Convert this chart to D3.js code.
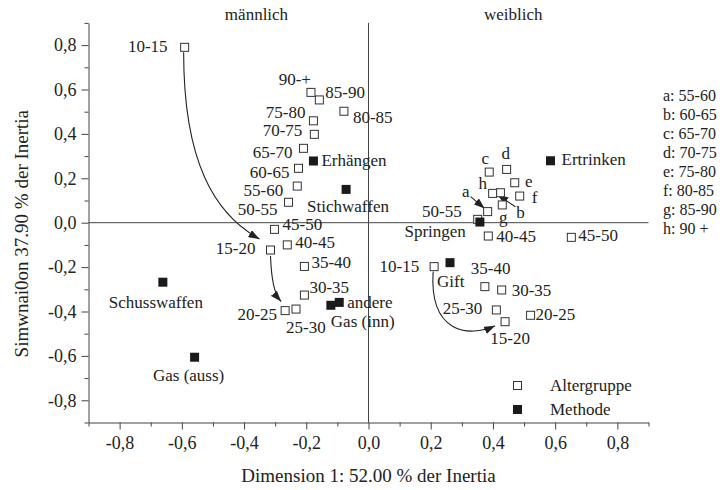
<!DOCTYPE html>
<html>
<head>
<meta charset="utf-8">
<script src="https://cdn.jsdelivr.net/npm/d3@7"></script>
<style>
  html, body { margin: 0; padding: 0; background: #fff; }
  svg { display: block; }
  text { font-family: "Liberation Serif", "Times New Roman", serif; fill: #222; }
</style>
</head>
<body>
<svg id="chart" width="724" height="490"></svg>
<script>
// ---------------- DATA ----------------
const ageGroups = ["10-15","15-20","20-25","25-30","30-35","35-40","40-45","45-50","50-55",
                   "55-60","60-65","65-70","70-75","75-80","80-85","85-90","90-+"];
const maleX   = [-0.591,-0.315,-0.268,-0.233,-0.206,-0.206,-0.261,-0.302,-0.257,
                 -0.229,-0.225,-0.209,-0.174,-0.177,-0.079,-0.158,-0.185];
const maleY   = [ 0.790,-0.123,-0.396,-0.389,-0.326,-0.197,-0.100,-0.030, 0.092,
                  0.165, 0.245, 0.335, 0.398, 0.459, 0.502, 0.553, 0.587];
const femaleX = [ 0.211, 0.439, 0.521, 0.411, 0.428, 0.374, 0.385, 0.652, 0.351,
                  0.383, 0.424, 0.388, 0.444, 0.470, 0.486, 0.430, 0.399];
const femaleY = [-0.198,-0.446,-0.417,-0.393,-0.303,-0.288,-0.060,-0.066, 0.015,
                  0.050, 0.135, 0.228, 0.240, 0.180, 0.120, 0.080, 0.132];
// female older groups are shown with letter codes
const femaleCodes = ["","","","","","","","","","a","b","c","d","e","f","g","h"];
const codeKey = ["a: 55-60","b: 60-65","c: 65-70","d: 70-75","e: 75-80","f: 80-85","g: 85-90","h: 90 +"];

const methods = ["Erhängen","Stichwaffen","andere","Gas (inn)","Schusswaffen","Gas (auss)","Ertrinken","Springen","Gift"];
const methodX = [-0.177,-0.072,-0.094,-0.121,-0.661,-0.559, 0.585, 0.358, 0.262];
const methodY = [ 0.278, 0.150,-0.359,-0.372,-0.268,-0.606, 0.279, 0.003,-0.180];

const xTicks = [-0.8,-0.6,-0.4,-0.2,0,0.2,0.4,0.6,0.8];
const yTicks = [-0.8,-0.6,-0.4,-0.2,0,0.2,0.4,0.6,0.8];
const minorTicks = [-0.9,-0.7,-0.5,-0.3,-0.1,0.1,0.3,0.5,0.7,0.9];
const sideHeaders = ["männlich","weiblich"];
const xTitle = "Dimension 1: 52.00 % der Inertia";
const yTitle = "Simwnai0on 37.90 % der Inertia";
const legendItems = ["Altergruppe","Methode"];

// ---------------- LAYOUT (label offsets in px) ----------------
const labelOffsets = {
  "m:10-15":[-17,5,"end"], "m:90-+":[0,-7,"end"], "m:85-90":[6,-2,"start"], "m:80-85":[9,12,"start"],
  "m:75-80":[-8,-3,"end"], "m:70-75":[-12,2,"end"], "m:65-70":[-11,10,"end"], "m:60-65":[-9,10,"end"],
  "m:55-60":[-14,10,"end"], "m:50-55":[-11,13,"end"], "m:45-50":[8,1,"start"], "m:40-45":[8,3,"start"],
  "m:15-20":[-15,4,"end"], "m:35-40":[7,2,"start"], "m:30-35":[5,-2,"start"], "m:20-25":[-8,9,"end"],
  "m:25-30":[-10,24,"start"],
  "f:10-15":[-15,5,"end"], "f:15-20":[5,22,"middle"], "f:20-25":[5,5,"start"], "f:25-30":[-14,4,"end"],
  "f:30-35":[10,6,"start"], "f:35-40":[-14,-13,"start"], "f:40-45":[8,6,"start"], "f:45-50":[7,4,"start"],
  "f:50-55":[-16,-2,"end"],
  "f:55-60":[-22,-15,"middle"], "f:60-65":[20,25,"middle"], "f:65-70":[-4,-8,"middle"],
  "f:70-75":[-1,-10,"middle"], "f:75-80":[14,4,"middle"], "f:80-85":[15,7,"middle"],
  "f:85-90":[1,18,"middle"], "f:90-+":[-10,-4,"middle"],
  "Erhängen":[8,5,"start"], "Stichwaffen":[-39,23,"start"], "andere":[8,6,"start"], "Gas (inn)":[0,22,"start"],
  "Schusswaffen":[-7,26,"middle"], "Gas (auss)":[-6,24,"middle"], "Ertrinken":[11,4,"start"],
  "Springen":[-14,15,"end"], "Gift":[-13,24,"start"]
};

// ---------------- CHART ----------------
const svg = d3.select("#chart");
const x = d3.scaleLinear().domain([-0.9, 0.9]).range([88.5, 648.5]);
const y = d3.scaleLinear().domain([-0.9, 0.9]).range([422.5, 22.9]);
const fmt = v => (Math.abs(v) < 1e-9 ? "0,0" : v.toFixed(1).replace(".", ","));

const axisColor = "#444";

// minor ticks
svg.append("g").attr("transform", `translate(0,${y(-0.9)})`)
  .call(d3.axisBottom(x).tickValues(minorTicks).tickSize(4).tickFormat("").tickSizeOuter(0))
  .call(g => g.select(".domain").remove());
svg.append("g").attr("transform", `translate(${x(-0.9)},0)`)
  .call(d3.axisLeft(y).tickValues(minorTicks).tickSize(4).tickFormat("").tickSizeOuter(0))
  .call(g => g.select(".domain").remove());

// major axes
const gx = svg.append("g").attr("transform", `translate(0,${y(-0.9)})`)
  .call(d3.axisBottom(x).tickValues(xTicks).tickSize(7).tickSizeOuter(0).tickPadding(7).tickFormat(fmt));
const gy = svg.append("g").attr("transform", `translate(${x(-0.9)},0)`)
  .call(d3.axisLeft(y).tickValues(yTicks).tickSize(7).tickSizeOuter(0).tickPadding(5).tickFormat(fmt));
[gx, gy].forEach(g => {
  g.selectAll("text").style("font-family", '"Liberation Serif", serif').style("font-size", "18px").attr("fill", "#222");
  g.selectAll("line, path").attr("stroke", axisColor);
});
svg.selectAll("g .tick line").attr("stroke", axisColor);

// crosshair lines at 0
svg.append("line").attr("x1", x(-0.9)).attr("x2", x(0.9)).attr("y1", y(0)).attr("y2", y(0))
  .attr("stroke", axisColor).attr("stroke-width", 1);
svg.append("line").attr("x1", x(0)).attr("x2", x(0)).attr("y1", y(0.9)).attr("y2", y(-0.9))
  .attr("stroke", axisColor).attr("stroke-width", 1);

// titles
svg.append("text").attr("x", x(0)).attr("y", 482).attr("text-anchor", "middle")
  .style("font-size", "19px").text(xTitle);
svg.append("text").attr("transform", `translate(28,${(y(0)+11)}) rotate(-90)`).attr("text-anchor", "middle")
  .style("font-size", "19px").text(yTitle);
svg.append("text").attr("x", x(-0.36)).attr("y", 20).attr("text-anchor", "middle")
  .style("font-size", "17px").text(sideHeaders[0]);
svg.append("text").attr("x", x(0.465)).attr("y", 20).attr("text-anchor", "middle")
  .style("font-size", "17px").text(sideHeaders[1]);

// arrow marker
const defs = svg.append("defs");
defs.append("marker").attr("id", "ah").attr("markerUnits", "userSpaceOnUse")
  .attr("markerWidth", 11).attr("markerHeight", 8).attr("refX", 11).attr("refY", 4)
  .attr("orient", "auto")
  .append("path").attr("d", "M0,0 L11,4 L0,8 z").attr("fill", "#222");

// helper positions
const P = (vx, vy) => [x(vx), y(vy)];
const idx = a => ageGroups.indexOf(a);
const mP = a => P(maleX[idx(a)], maleY[idx(a)]);
const fP = a => P(femaleX[idx(a)], femaleY[idx(a)]);

function curveArrow(src, dst, s, c1, c2, e) {
  const p = d3.path();
  const sx = src[0] + s[0], sy = src[1] + s[1];
  const ex = dst[0] + e[0], ey = dst[1] + e[1];
  p.moveTo(sx, sy);
  p.bezierCurveTo(sx + c1[0], sy + c1[1], ex + c2[0], ey + c2[1], ex, ey);
  svg.append("path").attr("d", p.toString()).attr("fill", "none")
    .attr("stroke", "#222").attr("stroke-width", 1.1).attr("marker-end", "url(#ah)");
}
// male: 10-15 -> 15-20 -> 20-25 ; female: 10-15 -> 15-20
curveArrow(mP("10-15"), mP("15-20"), [-1, 5], [0, 110], [-45, -25], [-11, -11]);
curveArrow(mP("15-20"), mP("20-25"), [0, 6], [1, 24], [-7, -8], [-4, -9]);
curveArrow(fP("10-15"), fP("15-20"), [-1, 5], [-4, 62], [-26, 12], [-10, 4]);

function straightArrow(pt, from, to) {
  svg.append("line").attr("x1", pt[0] + from[0]).attr("y1", pt[1] + from[1])
    .attr("x2", pt[0] + to[0]).attr("y2", pt[1] + to[1])
    .attr("stroke", "#222").attr("stroke-width", 1.1).attr("marker-end", "url(#ah)");
}
straightArrow(fP("55-60"), [-17, -15], [-3, -3]);
straightArrow(fP("60-65"), [15, 14], [-3, 2]);

// age group squares (open)
const ageData = [];
ageGroups.forEach((a, i) => {
  ageData.push({ key: "m:" + a, label: a, px: x(maleX[i]), py: y(maleY[i]) });
  ageData.push({ key: "f:" + a, label: femaleCodes[i] || a, px: x(femaleX[i]), py: y(femaleY[i]) });
});
const methodData = methods.map((m, i) => ({ key: m, label: m, px: x(methodX[i]), py: y(methodY[i]) }));

svg.append("g").selectAll("rect").data(ageData).join("rect")
  .attr("x", d => d.px - 4).attr("y", d => d.py - 4).attr("width", 8).attr("height", 8)
  .attr("fill", "#fff").attr("stroke", "#333").attr("stroke-width", 1);
svg.append("g").selectAll("rect").data(methodData).join("rect")
  .attr("x", d => d.px - 4.5).attr("y", d => d.py - 4.5).attr("width", 9).attr("height", 9)
  .attr("fill", "#1a1a1a");

// labels
svg.append("g").selectAll("text").data(ageData.concat(methodData)).join("text")
  .attr("x", d => d.px + labelOffsets[d.key][0])
  .attr("y", d => d.py + labelOffsets[d.key][1])
  .attr("text-anchor", d => labelOffsets[d.key][2])
  .style("font-size", "17px")
  .text(d => d.label);

// code key on the right
svg.append("g").selectAll("text").data(codeKey).join("text")
  .attr("x", 663).attr("y", (d, i) => 101 + i * 19)
  .style("font-size", "16px").text(d => d);

// legend
const leg = svg.append("g");
leg.append("rect").attr("x", 513.5).attr("y", 381.5).attr("width", 8).attr("height", 8)
  .attr("fill", "#fff").attr("stroke", "#333");
leg.append("rect").attr("x", 513).attr("y", 405).attr("width", 9).attr("height", 9).attr("fill", "#1a1a1a");
leg.selectAll("text").data(legendItems).join("text")
  .attr("x", 550).attr("y", (d, i) => 391 + i * 24)
  .style("font-size", "17px").text(d => d);
</script>
</body>
</html>
